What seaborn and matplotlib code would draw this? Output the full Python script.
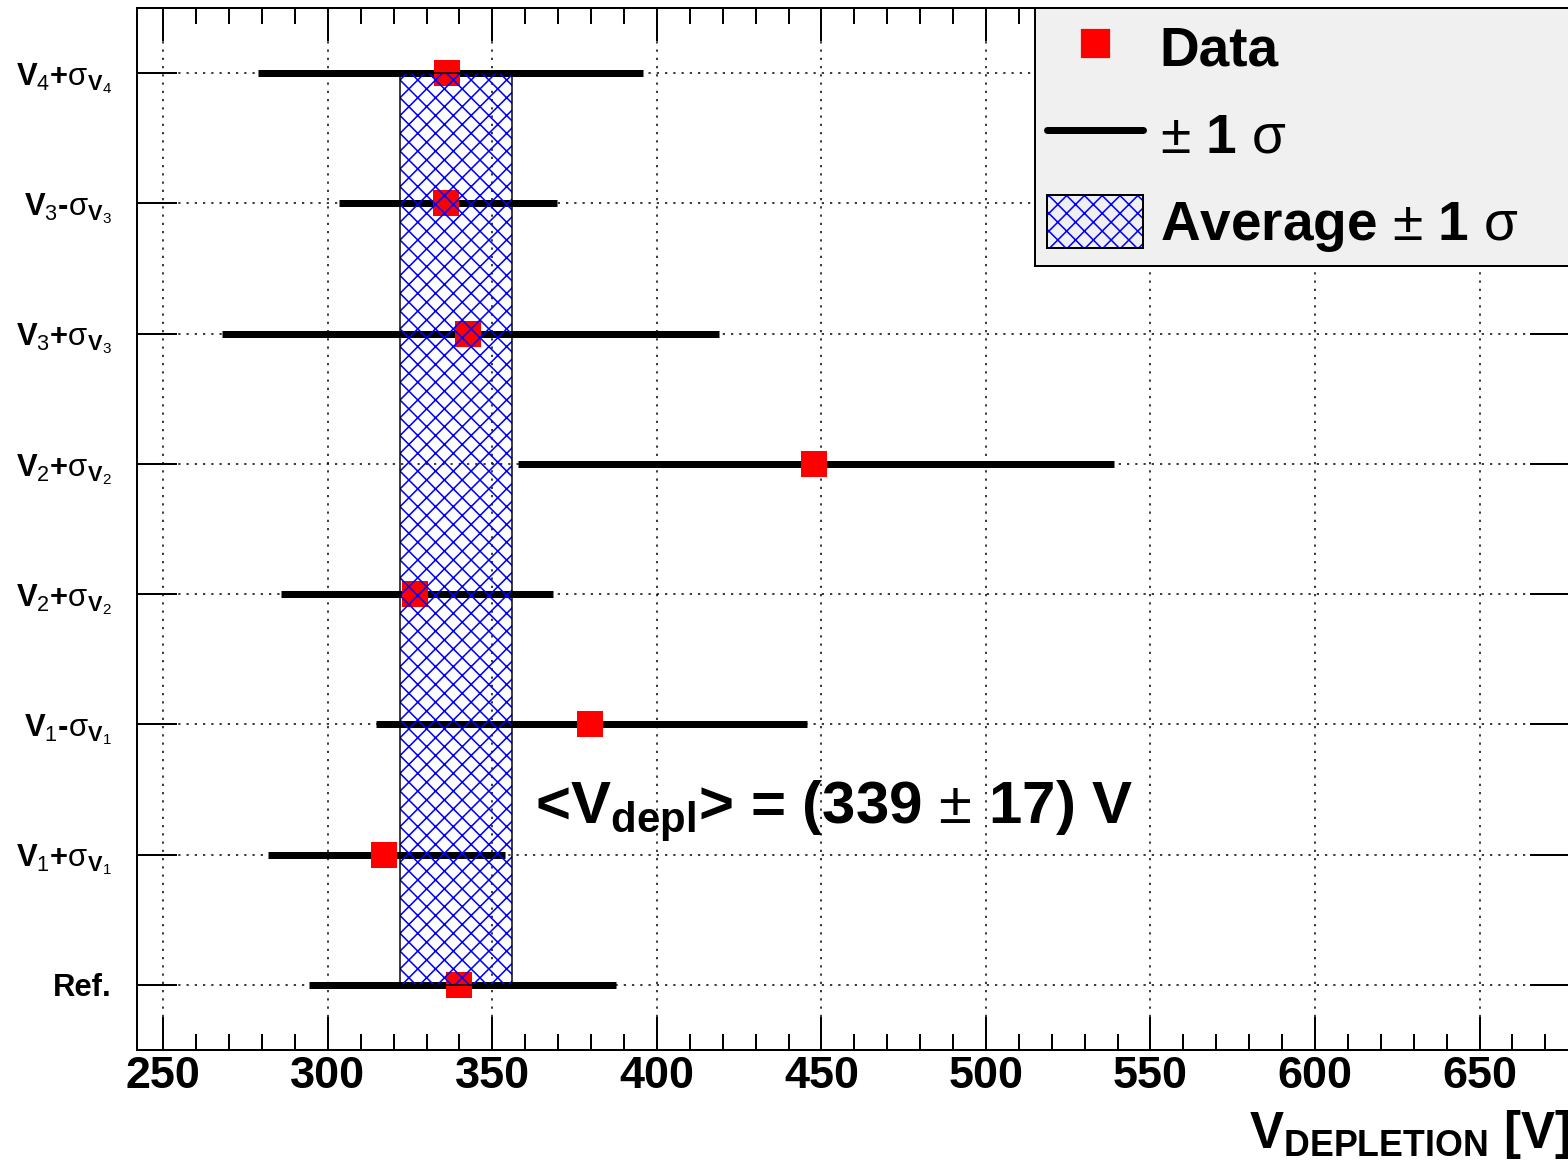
import numpy as np
import pandas as pd
import seaborn as sns
import matplotlib.pyplot as plt
from matplotlib.lines import Line2D
from matplotlib.patches import Patch, Rectangle
from matplotlib.ticker import MultipleLocator

# data, bottom row first
labels = [
    "Ref.",
    r"V$_{\mathrm{1}}$+$\mathrm{\sigma}_{\mathbf{V}_{\mathrm{1}}}$",
    r"V$_{\mathrm{1}}$-$\mathrm{\sigma}_{\mathbf{V}_{\mathrm{1}}}$",
    r"V$_{\mathrm{2}}$+$\mathrm{\sigma}_{\mathbf{V}_{\mathrm{2}}}$",
    r"V$_{\mathrm{2}}$+$\mathrm{\sigma}_{\mathbf{V}_{\mathrm{2}}}$",
    r"V$_{\mathrm{3}}$+$\mathrm{\sigma}_{\mathbf{V}_{\mathrm{3}}}$",
    r"V$_{\mathrm{3}}$-$\mathrm{\sigma}_{\mathbf{V}_{\mathrm{3}}}$",
    r"V$_{\mathrm{4}}$+$\mathrm{\sigma}_{\mathbf{V}_{\mathrm{4}}}$",
]
v_depl = [339.9, 317.1, 379.7, 326.5, 447.7, 342.6, 336.0, 336.3]
v_low = [294.3, 281.9, 314.7, 285.8, 357.8, 267.9, 303.5, 278.9]
v_high = [387.6, 353.9, 445.6, 368.5, 538.8, 418.9, 369.7, 395.8]
v_avg = 339
v_sig = 17

df = pd.DataFrame({"pos": np.arange(len(labels)), "v": v_depl,
                   "lo": v_low, "hi": v_high})

# px -> pt at dpi 160
P = 72 / 160

sns.set_style("ticks")
plt.rcParams["font.family"] = ["Liberation Sans", "DejaVu Sans"]
plt.rcParams["mathtext.fontset"] = "custom"
plt.rcParams["mathtext.rm"] = "Liberation Sans"
plt.rcParams["mathtext.bf"] = "Liberation Sans:bold"
plt.rcParams["mathtext.it"] = "Liberation Sans:italic"
plt.rcParams["hatch.linewidth"] = 0.7
for k in ["text.color", "axes.labelcolor", "xtick.color", "ytick.color"]:
    plt.rcParams[k] = "black"

fig = plt.figure(figsize=(1568 / 160, 1160 / 160), dpi=160)
ax = fig.add_axes([137 / 1568, 1 - 1050 / 1160, (1570 - 137) / 1568, (1050 - 8) / 1160])

# +-1 sigma bars
ax.errorbar(df["v"], df["pos"], xerr=[df["v"] - df["lo"], df["hi"] - df["v"]],
            fmt="none", ecolor="black", elinewidth=7 * P, capsize=0, zorder=2)
# data points
sns.scatterplot(data=df, x="v", y="pos", marker="s", color="red", s=(26 * P) ** 2,
                linewidth=0, ax=ax, zorder=3, legend=False)
# average band
ax.fill_betweenx([df["pos"].min(), df["pos"].max()], v_avg - v_sig, v_avg + v_sig,
                 facecolor="none", edgecolor="blue", hatch="xxx", linewidth=0, zorder=4)
ax.add_patch(Rectangle((v_avg - v_sig, df["pos"].min()), 2 * v_sig,
                       df["pos"].max() - df["pos"].min(), fill=False,
                       edgecolor="black", linewidth=1.5 * P, zorder=4))

ax.set_xlim(242, 677.5)
ax.set_ylim(-0.5, len(labels) - 0.5)
ax.xaxis.set_major_locator(MultipleLocator(50))
ax.xaxis.set_minor_locator(MultipleLocator(10))
ax.set_yticks(df["pos"])
ax.set_yticklabels(labels)
ax.set_ylabel("")

ax.grid(True, which="major", color="black", linestyle=(0, (1.5, 4)), linewidth=1.5 * P)
ax.set_axisbelow(True)
for s in ax.spines.values():
    s.set_linewidth(2 * P)
    s.set_color("black")

ax.tick_params(axis="x", which="major", direction="in", top=True, bottom=True,
               length=33 * P, width=2 * P, pad=2.5, labelsize=45 * P)
ax.tick_params(axis="x", which="minor", direction="in", top=True, bottom=True,
               length=16 * P, width=2 * P)
ax.tick_params(axis="y", which="major", direction="in", left=True, right=True,
               length=40 * P, width=2 * P, pad=25 * P, labelsize=31 * P)
for t in ax.get_xticklabels() + ax.get_yticklabels():
    t.set_fontweight("bold")

ax.set_xlabel(r"$\mathbf{V}_{\mathbf{DEPLETION}}$ [V]", fontsize=51 * P,
              fontweight="bold", ha="right")
ax.xaxis.set_label_coords(1.0, -0.056)

ax.text(363, 1.235, r"<$\mathbf{V}_{\mathbf{depl}}$> = (%d $\pm$ %d) V" % (v_avg, v_sig),
        fontsize=60 * P, fontweight="bold", va="baseline", ha="left", zorder=5)

# legend
handles = [
    Line2D([], [], marker="s", color="red", linestyle="none", markersize=27 * P),
    Line2D([], [], color="black", linewidth=7 * P),
    (Patch(facecolor="none", edgecolor="blue", hatch="xxx", linewidth=0),
     Patch(facecolor="none", edgecolor="black", linewidth=2 * P)),
]
leg_labels = ["Data", r"$\pm$ 1 $\mathrm{\sigma}$", r"Average $\pm$ 1 $\mathrm{\sigma}$"]
x0 = 1035 / 1568
leg = ax.legend(handles, leg_labels, loc="upper left", mode="expand",
                bbox_to_anchor=(x0, 0, 1.1 - x0, 1 - 8 / 1160),
                bbox_transform=fig.transFigure, borderaxespad=0,
                prop={"family": "Liberation Sans", "weight": "bold", "size": 55 * P},
                handlelength=1.75, handleheight=1.1, handletextpad=0.3,
                borderpad=0.22, labelspacing=0.55, fancybox=False, framealpha=1,
                facecolor="#f0f0f0", edgecolor="black")
leg.get_frame().set_linewidth(2 * P)
leg.set_zorder(6)

fig.savefig("out.png", dpi=160)
